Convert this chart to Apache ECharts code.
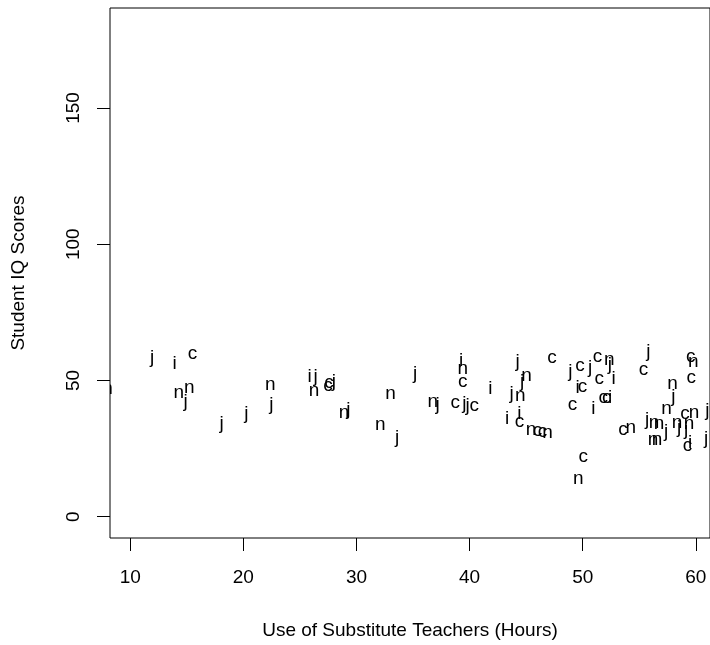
<!DOCTYPE html>
<html>
<head>
<meta charset="utf-8">
<script src="https://cdn.jsdelivr.net/npm/echarts@6/dist/echarts.min.js"></script>
<style>
  html, body { margin: 0; padding: 0; background: #fff; }
  #chart { width: 710px; height: 645px; }
</style>
</head>
<body>
<div id="chart"></div>
<script>
// points drawn as letters (R pch = letter), one pair of arrays per letter
const cX = [15.51, 27.48, 27.58, 38.72, 40.42, 39.39, 44.40, 46.01, 46.45, 47.28, 49.75, 49.98, 51.31, 51.46, 49.10, 51.81, 52.12, 55.37, 59.55, 59.60, 59.05, 53.57, 59.25, 50.04]
const cY = [59.9, 48.2, 49.3, 42.0, 40.8, 49.7, 35.1, 31.8, 31.5, 58.6, 55.5, 47.9, 59.1, 50.9, 41.5, 43.8, 43.8, 54.2, 59.1, 51.2, 38.1, 32.3, 26.2, 22.1]

const iX = [13.92, 25.86, 39.25, 41.84, 43.31, 44.40, 49.54, 52.72, 50.95, 52.43, 59.49]
const iY = [57.0, 52.1, 58.2, 47.9, 36.9, 38.8, 48.1, 51.5, 40.6, 44.7, 27.9]

const jX = [11.94, 14.89, 18.07, 20.27, 22.48, 26.39, 28.01, 29.28, 33.60, 35.19, 37.18, 39.54, 39.83, 44.25, 43.72, 44.63, 48.90, 50.66, 52.40, 55.81, 58.01, 61.01, 55.69, 57.37, 58.52, 59.14, 60.90]
const jY = [58.6, 42.4, 34.2, 38.1, 41.1, 51.5, 49.7, 39.3, 29.0, 52.7, 41.4, 41.5, 40.8, 57.0, 45.4, 49.8, 53.4, 54.8, 55.8, 60.7, 44.2, 38.9, 35.9, 31.2, 32.7, 31.9, 28.6]

const nX = [7.99, 14.30, 15.21, 22.39, 26.24, 28.89, 32.10, 33.01, 36.74, 39.39, 45.04, 44.48, 45.43, 46.89, 52.34, 59.78, 57.93, 57.40, 59.84, 54.25, 56.31, 56.75, 58.34, 59.40, 56.22, 56.57, 49.60]
const nY = [47.3, 45.7, 47.6, 48.8, 46.6, 38.4, 33.9, 45.2, 42.4, 54.6, 51.8, 44.8, 32.0, 31.1, 57.8, 57.0, 49.1, 40.0, 38.5, 32.9, 34.9, 34.5, 34.9, 34.5, 28.6, 28.6, 14.1]

const xTicks = [10, 20, 30, 40, 50, 60]
const yTicks = [0, 50, 100, 150]

const FONT = '"Liberation Sans", Arial, Helvetica, sans-serif'
const PT_SIZE = 19
// ink centre of each glyph above the baseline (em), so the letter sits centred like R's pch
const inkMid = { c: 0.265, n: 0.265, i: 0.358, j: 0.253 }
const EM_MIDDLE = 0.31 // canvas 'middle' baseline above alphabetic baseline

const groups = [
  { letter: 'c', xs: cX, ys: cY },
  { letter: 'i', xs: iX, ys: iY },
  { letter: 'j', xs: jX, ys: jY },
  { letter: 'n', xs: nX, ys: nY }
]

const letterSeries = groups.map(g => ({
  type: 'custom',
  name: g.letter,
  clip: true,
  data: g.xs.map((x, k) => [x, g.ys[k]]),
  renderItem: (params, api) => {
    const p = api.coord([api.value(0), api.value(1)])
    const cs = params.coordSys
    return {
      type: 'text',
      clipPath: {
        type: 'rect',
        shape: { x: cs.x, y: cs.y, width: cs.width, height: cs.height }
      },
      style: {
        x: p[0],
        y: p[1] + 1.5 + (inkMid[g.letter] - EM_MIDDLE) * PT_SIZE,
        text: g.letter,
        fill: '#000',
        font: PT_SIZE + 'px ' + FONT,
        align: 'center',
        verticalAlign: 'middle'
      }
    }
  }
}))

const chart = echarts.init(document.getElementById('chart'), null, { renderer: 'canvas' })

chart.setOption({
  backgroundColor: '#fff',
  animation: false,
  textStyle: { fontFamily: FONT },
  grid: {
    left: 110,
    top: 8,
    right: -1,
    bottom: 104,
    show: true,
    borderColor: '#000',
    borderWidth: 1,
    backgroundColor: 'transparent'
  },
  xAxis: {
    type: 'value',
    min: 8.21,
    max: 61.25,
    name: 'Use of Substitute Teachers (Hours)',
    nameLocation: 'middle',
    nameGap: 83,
    nameTextStyle: { color: '#000', fontSize: 19, fontFamily: FONT },
    axisLine: { show: false, onZero: false },
    splitLine: { show: false },
    axisTick: {
      show: true,
      length: 13,
      customValues: xTicks,
      lineStyle: { color: '#000', width: 1 }
    },
    axisLabel: {
      customValues: xTicks,
      color: '#000',
      fontSize: 19,
      fontFamily: FONT,
      margin: 30
    }
  },
  yAxis: {
    type: 'value',
    min: -7.8,
    max: 186.7,
    name: 'Student IQ Scores',
    nameLocation: 'middle',
    nameGap: 82,
    nameTextStyle: { color: '#000', fontSize: 19, fontFamily: FONT },
    axisLine: { show: false, onZero: false },
    splitLine: { show: false },
    axisTick: {
      show: true,
      length: 13,
      customValues: yTicks,
      lineStyle: { color: '#000', width: 1 }
    },
    axisLabel: {
      customValues: yTicks,
      rotate: 90,
      color: '#000',
      fontSize: 19,
      fontFamily: FONT,
      margin: 27
    }
  },
  series: letterSeries
})
</script>
</body>
</html>
